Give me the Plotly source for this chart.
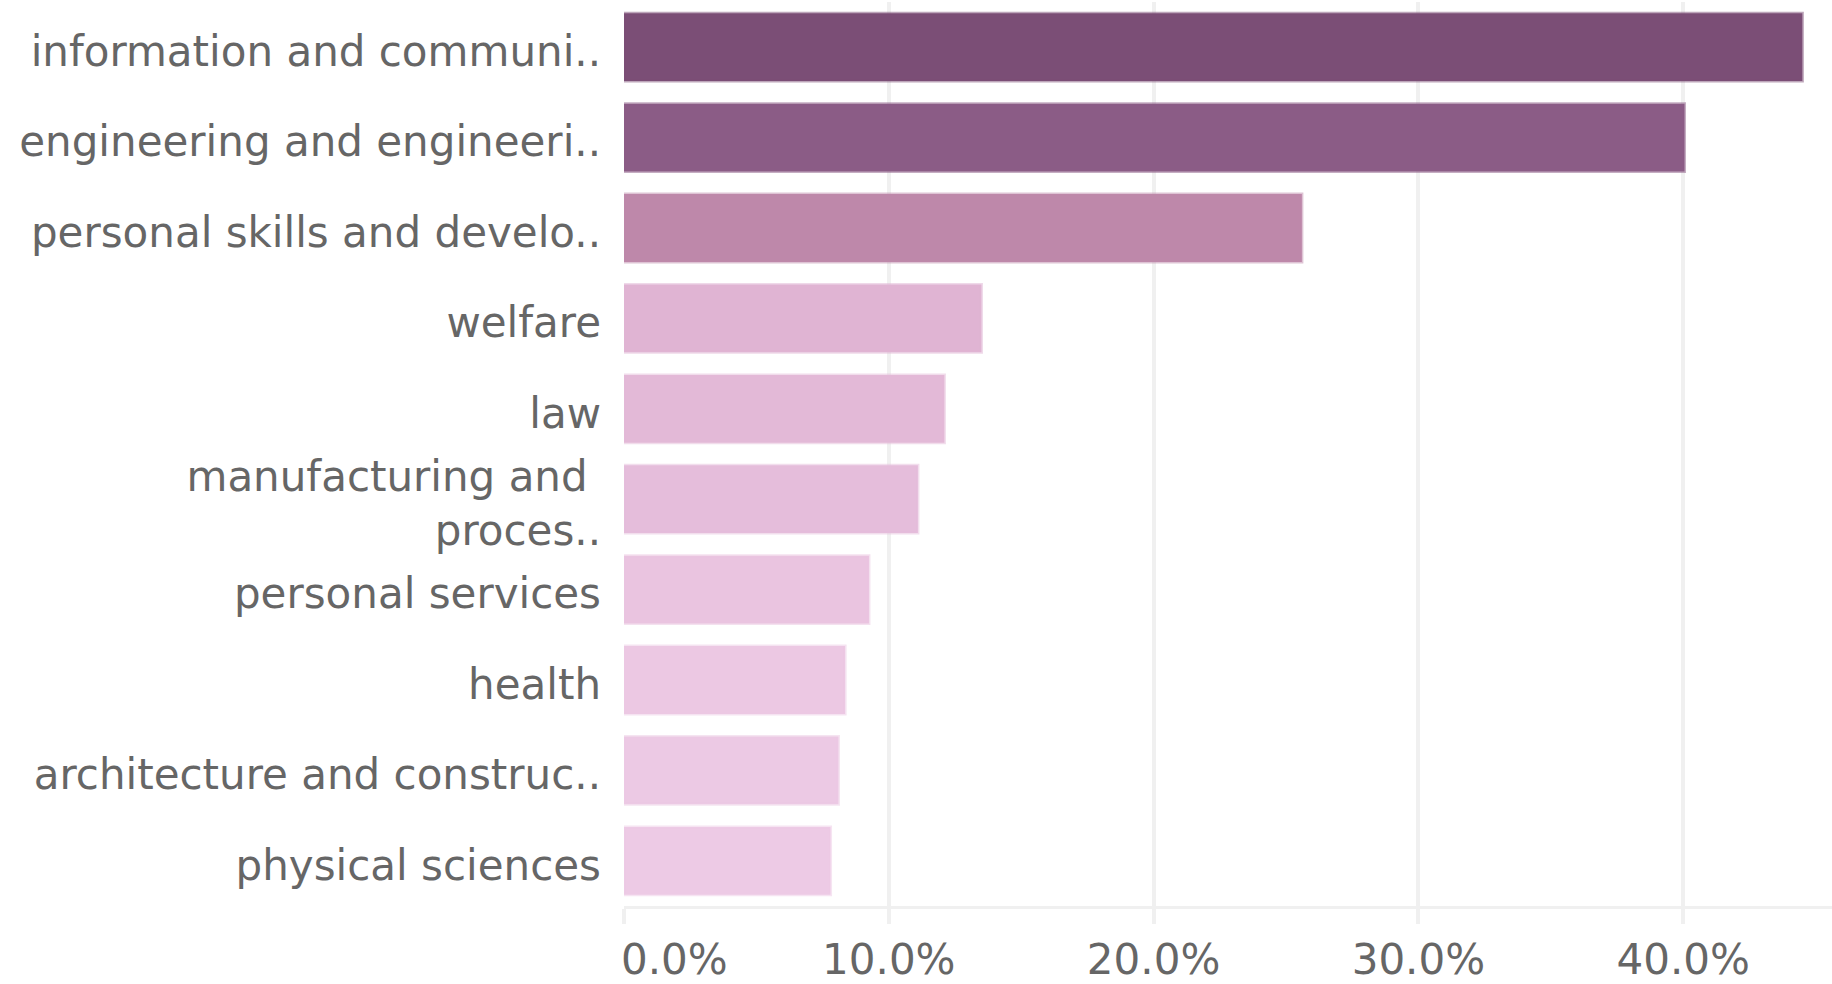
import plotly.graph_objects as go

categories = [
    "information and communi..",
    "engineering and engineeri..",
    "personal skills and develo..",
    "welfare",
    "law",
    "manufacturing and\u00a0<br>proces..",
    "personal services",
    "health",
    "architecture and construc..",
    "physical sciences",
]
values = [44.5, 40.05, 25.6, 13.5, 12.1, 11.1, 9.25, 8.35, 8.1, 7.8]
tick_values = [0, 10, 20, 30, 40]
tick_labels = ["", "10.0%", "20.0%", "30.0%", "40.0%"]
first_tick_label = "0.0%"

FONT = "DejaVu Sans"
TEXT = "#666666"
GRID = "#f0f0f0"

fill_scale = [
    [0.0, "rgb(237,202,229)"],
    [0.155, "rgb(224,180,211)"],
    [0.485, "rgb(190,136,170)"],
    [0.879, "rgb(139,92,134)"],
    [1.0, "rgb(123,78,118)"],
]
edge_scale = [[p, c.replace("rgb(", "rgba(").replace(")", ",0.5)")] for p, c in fill_scale]

fig = go.Figure(
    go.Bar(
        y=categories,
        x=values,
        orientation="h",
        marker=dict(
            color=values,
            colorscale=fill_scale,
            cmin=min(values),
            cmax=max(values),
            line=dict(
                color=values,
                colorscale=edge_scale,
                cmin=min(values),
                cmax=max(values),
                width=3,
            ),
        ),
        hoverinfo="skip",
    )
)

fig.update_layout(
    width=1832,
    height=984,
    autosize=False,
    margin=dict(l=624, r=0, t=2, b=70, pad=0),
    paper_bgcolor="white",
    plot_bgcolor="white",
    bargap=0.25,
    showlegend=False,
    font=dict(family=FONT, size=42, color=TEXT),
    xaxis=dict(
        range=[0, 45.62],
        tickvals=tick_values,
        ticktext=tick_labels,
        showgrid=True,
        gridcolor=GRID,
        gridwidth=4,
        zeroline=False,
        showline=True,
        linecolor=GRID,
        linewidth=3,
        ticks="outside",
        ticklen=15,
        tickwidth=4,
        tickcolor=GRID,
        tickfont=dict(family=FONT, size=42, color=TEXT),
        fixedrange=True,
    ),
    yaxis=dict(
        categoryorder="array",
        categoryarray=categories,
        range=[9.5, -0.5],
        showgrid=False,
        zeroline=False,
        showline=False,
        ticks="",
        ticklabelstandoff=22,
        ticklabelshift=-4,
        tickfont=dict(family=FONT, size=42, color=TEXT),
        fixedrange=True,
    ),
    annotations=[
        dict(
            text=first_tick_label,
            x=0,
            xref="x",
            xanchor="left",
            y=0,
            yref="paper",
            yanchor="top",
            yshift=-28,
            xshift=-4,
            borderpad=0,
            showarrow=False,
            font=dict(family=FONT, size=42, color=TEXT),
        )
    ],
)

fig.write_html(
    "out.html",
    config={"displayModeBar": False, "staticPlot": True},
    post_script="document.body.style.margin='0';document.body.style.overflow='hidden';",
)
